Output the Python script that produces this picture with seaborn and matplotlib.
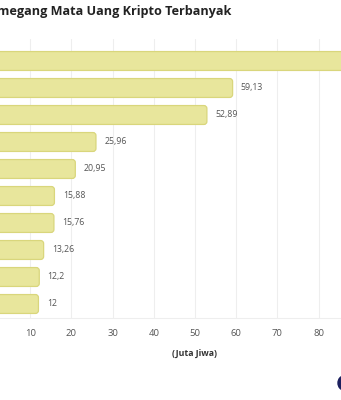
import matplotlib
matplotlib.use("Agg")
import matplotlib.pyplot as plt
import seaborn as sns
import pandas as pd
from matplotlib.patches import Circle, FancyBboxPatch

# Data: crypto holders per country (million people)
countries = ["India", "Amerika Serikat", "Pakistan", "Nigeria", "Vietnam",
             "Brasil", "Filipina", "Rusia", "Indonesia", "Thailand"]
holders = [93.54, 59.13, 52.89, 25.96, 20.95, 15.88, 15.76, 13.26, 12.2, 12]
value_labels = ["93,54", "59,13", "52,89", "25,96", "20,95",
                "15,88", "15,76", "13,26", "12,2", "12"]
x_ticks = [0, 10, 20, 30, 40, 50, 60, 70, 80, 90, 100]

df = pd.DataFrame({"Negara": countries, "Pemegang": holders})

sns.set_theme(style="white")
plt.rcParams["font.family"] = ["Open Sans", "DejaVu Sans"]

fig = plt.figure(figsize=(3.41, 4.0), dpi=100)
W, H = 341, 400
ax_w_px, ax_h_px = 412, 278.1
ax = fig.add_axes([-11 / W, 1 - 317.5 / H, ax_w_px / W, ax_h_px / H])

bar_face = "#e8e69c"
bar_edge = "#d9d67c"
sns.barplot(data=df, y="Negara", x="Pemegang", ax=ax, color=bar_face,
            edgecolor=bar_edge, linewidth=0.9, width=0.7, saturation=1,
            zorder=3)

ax.set_xlim(0, 100)
ax.set_ylim(9.5, -0.8)

# swap the square bars for rounded ones
px_per_x = ax_w_px / 100
px_per_y = ax_h_px / 10.3
radius_px = 3
for patch in list(ax.patches):
    x0, y0 = patch.get_x(), patch.get_y()
    w, h = patch.get_width(), patch.get_height()
    patch.remove()
    ax.add_patch(FancyBboxPatch(
        (x0, y0), w, h,
        boxstyle=f"round,pad=0,rounding_size={radius_px / px_per_x}",
        mutation_aspect=px_per_x / px_per_y,
        facecolor=bar_face, edgecolor=bar_edge, linewidth=0.9, zorder=3))

for val, lab, i in zip(holders, value_labels, range(len(holders))):
    ax.annotate(lab, (val, i), xytext=(6, 0),
                textcoords="offset points", va="center", ha="left",
                fontsize=6.3, color="#555555")

ax.set_xticks(x_ticks)
ax.set_xticklabels([str(t) for t in x_ticks], fontsize=6.8, color="#555555")
ax.tick_params(axis="x", length=0, pad=8)
ax.tick_params(axis="y", length=0)
ax.set_ylabel("")
ax.set_xlabel("(Juta Jiwa)", fontsize=6.3, fontweight="bold",
              color="#333333", labelpad=8)
ax.xaxis.grid(True, color="#eeeeee", linewidth=0.8, zorder=0)
for side in ["top", "right", "left"]:
    ax.spines[side].set_visible(False)
ax.spines["bottom"].set_color("#eeeeee")
ax.spines["bottom"].set_linewidth(0.8)

fig.text(231 / W, 1 - 12 / H, "Negara dengan Pemegang Mata Uang Kripto Terbanyak",
         ha="right", va="center", fontsize=9.1, fontweight="bold",
         color="#222222")

fig.patches.append(Circle((344 / W, 1 - 383 / H), 6 / W,
                          transform=fig.transFigure, color="#1b1f5e"))

fig.savefig("out.png", dpi=100)
